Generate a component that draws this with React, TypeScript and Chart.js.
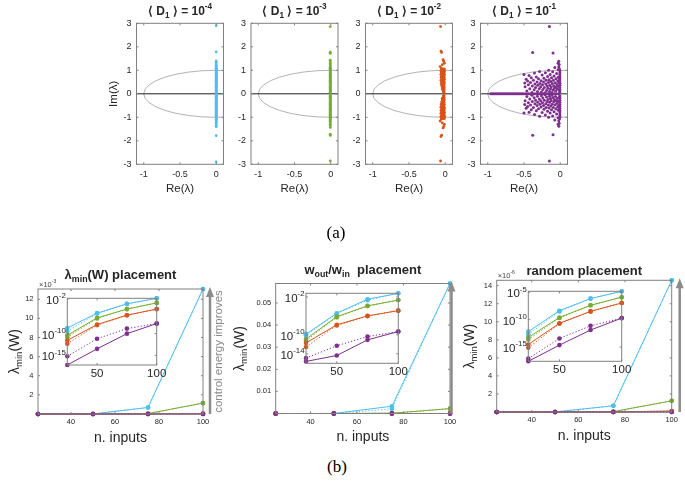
import React, { useEffect, useRef } from 'react';
import { Chart, registerables } from 'chart.js';

Chart.register(...registerables);

const FONT = '"Liberation Sans", Arial, Helvetica, sans-serif';
const SERIF = '"Liberation Serif", "Times New Roman", serif';
const TEXT = '#262626';
const BOX = '#808080';
const ARROW = '#8c8c8c';
const CYAN = '#4DBEEE';
const GREEN = '#77AC30';
const ORANGE = '#D95319';
const PURPLE = '#7E2F8E';

// ---------------- (a) eigenvalue spectra ----------------
const D1_EXPONENTS = ['-4', '-3', '-2', '-1'];
const EIG_COLORS = [CYAN, GREEN, ORANGE, PURPLE];
const RE_TICKS = [-1, -0.5, 0];
const RE_TICK_LABELS = ['-1', '-0.5', '0'];
const IM_TICKS = [-3, -2, -1, 0, 1, 2, 3];
const IM_TICK_LABELS = ['-3', '-2', '-1', '0', '1', '2', '3'];

// <D1> = 1e-4 : conjugate pairs re ± i*im
const EIG_D4_RE = -0.0005;
const EIG_D4_IM = [2.9, 1.78, 1.4, 1.34, 1.27, 1.21, 1.16, 1.12, 1.09, 1.06, 1.03, 1.0, 0.97, 0.94, 0.91, 0.88, 0.85, 0.82, 0.79, 0.76, 0.73, 0.7, 0.67, 0.64, 0.61, 0.58, 0.55, 0.52, 0.49, 0.46, 0.43, 0.4, 0.37, 0.34, 0.31, 0.28, 0.25, 0.22, 0.19, 0.16, 0.13, 0.1, 0.07, 0.04];
// <D1> = 1e-3
const EIG_D3_RE = -0.007;
const EIG_D3_IM = [2.86, 1.77, 1.72, 1.43, 1.36, 1.3, 1.24, 1.18, 1.13, 1.09, 1.06, 1.03, 1.0, 0.97, 0.94, 0.91, 0.88, 0.85, 0.82, 0.79, 0.76, 0.73, 0.7, 0.67, 0.64, 0.61, 0.58, 0.55, 0.52, 0.49, 0.46, 0.43, 0.4, 0.37, 0.34, 0.31, 0.28, 0.25, 0.22, 0.19, 0.16, 0.13, 0.1, 0.07, 0.04];
// <D1> = 1e-2 : [re, im] conjugate pairs
const EIG_D2_PAIRS = [
  [-0.065, 2.86], [-0.06, 1.82], [-0.05, 1.76], [-0.03, 1.45], [-0.02, 1.39], [-0.012, 1.3], [-0.04, 1.24], [-0.07, 1.16],
  [-0.055, 1.08], [-0.03, 1.06], [-0.012, 1.05], [-0.048, 1.02], [-0.022, 1.0], [-0.06, 0.98], [-0.038, 0.96], [-0.01, 0.95],
  [-0.052, 0.92], [-0.028, 0.9], [-0.015, 0.88], [-0.045, 0.86], [-0.06, 0.83], [-0.032, 0.82], [-0.01, 0.8], [-0.05, 0.78],
  [-0.022, 0.76], [-0.04, 0.74], [-0.058, 0.71], [-0.015, 0.7], [-0.035, 0.68], [-0.05, 0.65], [-0.025, 0.63], [-0.01, 0.61],
  [-0.045, 0.6], [-0.06, 0.57], [-0.03, 0.55], [-0.018, 0.53], [-0.05, 0.51], [-0.038, 0.48], [-0.012, 0.46], [-0.055, 0.44],
  [-0.025, 0.42], [-0.042, 0.39], [-0.015, 0.37], [-0.05, 0.35], [-0.03, 0.33], [-0.02, 0.3], [-0.04, 0.28], [-0.012, 0.26],
  [-0.035, 0.24], [-0.022, 0.21], [-0.04, 0.19], [-0.015, 0.17], [-0.028, 0.14], [-0.018, 0.11], [-0.025, 0.08], [-0.015, 0.05],
];
// <D1> = 1e-1 : real eigenvalues and conjugate pairs
const EIG_D1_REAL = [-0.96, -0.94, -0.92, -0.9, -0.88, -0.86, -0.84, -0.82, -0.8, -0.78, -0.76, -0.74, -0.72, -0.7, -0.68, -0.66, -0.64, -0.62, -0.6, -0.58, -0.56, -0.54, -0.52, -0.5, -0.47, -0.44, -0.41, -0.38, -0.35, -0.32, -0.29, -0.26, -0.23, -0.2, -0.17, -0.14, -0.11, -0.08, -0.05, -0.02];
const EIG_D1_PAIRS = [
  [-0.15, 2.86], [-0.38, 1.76], [-0.1, 1.74],
  [-0.005, 0.08], [-0.004, 0.18], [-0.006, 0.27], [-0.005, 0.36], [-0.004, 0.45], [-0.006, 0.54], [-0.005, 0.63], [-0.004, 0.72], [-0.006, 0.81], [-0.005, 0.9], [-0.004, 0.98], [-0.01, 1.06], [-0.02, 1.15], [-0.015, 1.25], [-0.02, 1.38], [-0.03, 1.3],
  [-0.5, 0.82], [-0.49, 0.46], [-0.485, 0.3], [-0.47, 0.62], [-0.46, 0.12], [-0.45, 0.54], [-0.44, 0.38], [-0.43, 0.78], [-0.42, 0.22], [-0.41, 0.48],
  [-0.4, 0.68], [-0.39, 0.06], [-0.385, 0.33], [-0.37, 0.58], [-0.36, 0.17], [-0.355, 0.88], [-0.35, 0.42], [-0.34, 0.27], [-0.33, 0.72], [-0.32, 0.5],
  [-0.315, 0.1], [-0.31, 0.36], [-0.3, 0.64], [-0.29, 0.22], [-0.285, 0.95], [-0.28, 0.44], [-0.27, 0.3], [-0.265, 0.56], [-0.26, 0.08], [-0.25, 0.8],
  [-0.245, 0.38], [-0.24, 0.18], [-0.23, 0.5], [-0.225, 0.66], [-0.22, 0.27], [-0.21, 0.04], [-0.205, 0.9], [-0.2, 0.42], [-0.195, 0.58], [-0.19, 0.14],
  [-0.18, 0.33], [-0.175, 0.74], [-0.17, 0.24], [-0.165, 0.48], [-0.16, 1.0], [-0.155, 0.6], [-0.15, 0.1], [-0.145, 0.36], [-0.14, 0.82], [-0.135, 0.2],
  [-0.13, 0.52], [-0.125, 0.29], [-0.12, 0.68], [-0.115, 0.06], [-0.11, 0.44], [-0.105, 0.94], [-0.1, 0.16], [-0.095, 0.58], [-0.09, 0.34], [-0.085, 0.76],
  [-0.08, 0.24], [-0.075, 1.12], [-0.07, 0.47], [-0.065, 0.12], [-0.06, 0.64], [-0.055, 0.3], [-0.05, 0.86], [-0.045, 0.4], [-0.04, 0.2], [-0.035, 0.55],
  [-0.03, 1.02], [-0.028, 0.7], [-0.025, 0.32], [-0.02, 0.48], [-0.015, 0.14], [-0.012, 0.6],
];

// ---------------- (b) lambda_min(W) vs number of inputs ----------------
const INPUTS = [25, 50, 75, 100];
const N_TICKS = [40, 60, 80, 100];
const N_TICK_LABELS = ['40', '60', '80', '100'];
const INSET_N_TICKS = [50, 100];
const INSET_N_TICK_LABELS = ['50', '100'];

// lambda_min(W) placement
const LM_CYAN = [1.9e-9, 5.0e-6, 6.8e-4, 1.307e-2];
const LM_CYAN_DOT = [3.3e-10, 4.0e-6, 6.8e-4, 1.307e-2];
const LM_GREEN = [3.9e-11, 4.1e-7, 4.3e-5, 1.14e-3];
const LM_GREEN_DOT = [1.5e-11, 3.0e-7, 4.3e-5, 1.14e-3];
const LM_ORANGE = [2.6e-12, 1.2e-8, 1.7e-6, 4.3e-5];
const LM_ORANGE_DOT = [4.5e-13, 9.0e-9, 1.7e-6, 4.3e-5];
const LM_PURPLE = [5.9e-18, 3.1e-14, 9.5e-11, 2.0e-8];
const LM_PURPLE_DOT = [5.9e-16, 6.6e-12, 1.4e-9, 2.0e-8];
const LM_YTICKS = [0.002, 0.004, 0.006, 0.008, 0.01, 0.012];
const LM_YTICK_LABELS = ['2', '4', '6', '8', '10', '12'];
const LM_INSET_YTICKS = [1e-15, 1e-10, 1e-2];

// w_out/w_in placement
const WO_CYAN = [1.4e-10, 3.7e-6, 3.3e-3, 5.88e-2];
const WO_CYAN_DOT = [8.0e-11, 3.0e-6, 2.1e-3, 5.88e-2];
const WO_GREEN = [1.3e-11, 7.0e-7, 1.3e-4, 2.2e-3];
const WO_GREEN_DOT = [6.0e-12, 5.0e-7, 1.2e-4, 2.2e-3];
const WO_ORANGE = [2.0e-12, 1.3e-8, 1.0e-6, 1.3e-5];
const WO_ORANGE_DOT = [2.8e-13, 1.0e-8, 9.0e-7, 1.3e-5];
const WO_PURPLE = [2.5e-16, 4.4e-15, 8.9e-12, 5.0e-10];
const WO_PURPLE_DOT = [1.3e-15, 5.0e-13, 4.4e-11, 5.0e-10];
const WO_YTICKS = [0.01, 0.02, 0.03, 0.04, 0.05];
const WO_YTICK_LABELS = ['0.01', '0.02', '0.03', '0.04', '0.05'];
const WO_INSET_YTICKS = [1e-14, 1e-10, 1e-2];

// random placement
const RD_CYAN = [6.6e-13, 4.3e-9, 6.9e-7, 1.46e-5];
const RD_CYAN_DOT = [2.1e-13, 3.2e-9, 6.9e-7, 1.46e-5];
const RD_GREEN = [5.9e-14, 2.5e-10, 4.1e-8, 1.24e-6];
const RD_GREEN_DOT = [2.5e-14, 2.0e-10, 4.1e-8, 1.24e-6];
const RD_ORANGE = [3.0e-15, 2.2e-11, 3.2e-9, 1.1e-7];
const RD_ORANGE_DOT = [7.4e-16, 1.8e-11, 3.2e-9, 1.1e-7];
const RD_PURPLE = [2.6e-18, 2.3e-15, 1.3e-12, 1.9e-10];
const RD_PURPLE_DOT = [7.9e-18, 3.8e-14, 7.4e-12, 1.9e-10];
const RD_YTICKS = [2e-6, 4e-6, 6e-6, 8e-6, 10e-6, 12e-6, 14e-6];
const RD_YTICK_LABELS = ['2', '4', '6', '8', '10', '12', '14'];
const RD_INSET_YTICKS = [1e-15, 1e-10, 1e-5];

// ---------------- helpers ----------------
type Part = { t: string; s?: 'sub' | 'sup' };
type Box = { x: number; y: number; w: number; h: number };
type Marg = { l: number; t: number; r: number; b: number };

function drawRich(ctx: any, parts: Part[], x: number, y: number, size: number, opt: any = {}) {
  const { bold = false, align = 'center', color = TEXT, rotate = false } = opt;
  const w = bold ? 'bold ' : '';
  const small = size * 0.68;
  ctx.save();
  ctx.translate(x, y);
  if (rotate) ctx.rotate(-Math.PI / 2);
  const fonts = parts.map((p) => `${w}${p.s ? small : size}px ${FONT}`);
  const widths = parts.map((p, i) => {
    ctx.font = fonts[i];
    return ctx.measureText(p.t).width;
  });
  const total = widths.reduce((a, b) => a + b, 0);
  let cx = align === 'left' ? 0 : align === 'right' ? -total : -total / 2;
  ctx.fillStyle = color;
  ctx.textAlign = 'left';
  ctx.textBaseline = 'middle';
  parts.forEach((p, i) => {
    ctx.font = fonts[i];
    const dy = p.s === 'sub' ? size * 0.32 : p.s === 'sup' ? -size * 0.42 : 0;
    ctx.fillText(p.t, cx, dy);
    cx += widths[i];
  });
  ctx.restore();
}

function drawArrow(ctx: any, x: number, yBottom: number, yTop: number) {
  ctx.save();
  ctx.strokeStyle = ARROW;
  ctx.fillStyle = ARROW;
  ctx.lineWidth = 2.5;
  ctx.beginPath();
  ctx.moveTo(x, yBottom);
  ctx.lineTo(x, yTop + 8);
  ctx.stroke();
  ctx.beginPath();
  ctx.moveTo(x, yTop);
  ctx.lineTo(x - 4, yTop + 10);
  ctx.lineTo(x + 4, yTop + 10);
  ctx.closePath();
  ctx.fill();
  ctx.restore();
}

function axis(kind: 'x' | 'y', type: string, min: number, max: number, ticks: number[], labels: string[], fontSize: number, pad: number, size: number, show = true) {
  return {
    type,
    min,
    max,
    position: kind === 'x' ? 'bottom' : 'left',
    grid: { display: false, drawTicks: false, tickLength: 0 },
    border: { display: false },
    ticks: {
      display: show,
      autoSkip: false,
      maxRotation: 0,
      minRotation: 0,
      padding: pad,
      color: TEXT,
      font: { family: FONT, size: fontSize },
      callback: (_v: any, i: number) => labels[i] ?? '',
    },
    afterBuildTicks: (s: any) => {
      s.ticks = ticks.map((v) => ({ value: v }));
    },
    afterFit: (s: any) => {
      if (kind === 'x') s.height = size;
      else s.width = size;
      s.paddingLeft = 0;
      s.paddingRight = 0;
      s.paddingTop = 0;
      s.paddingBottom = 0;
    },
  };
}

function framePlugin(o: { white?: boolean; circle?: boolean; extra?: (ctx: any, chart: any) => void; tick?: number }) {
  return {
    id: 'frame',
    beforeDraw(chart: any) {
      if (!o.white) return;
      const a = chart.chartArea;
      const ctx = chart.ctx;
      ctx.save();
      ctx.fillStyle = '#ffffff';
      ctx.fillRect(a.left, a.top, a.right - a.left, a.bottom - a.top);
      ctx.restore();
    },
    beforeDatasetsDraw(chart: any) {
      if (!o.circle) return;
      const a = chart.chartArea;
      const ctx = chart.ctx;
      const xs = chart.scales.x;
      const ys = chart.scales.y;
      ctx.save();
      ctx.beginPath();
      ctx.rect(a.left, a.top, a.right - a.left, a.bottom - a.top);
      ctx.clip();
      const cx = xs.getPixelForValue(0);
      const cy = ys.getPixelForValue(0);
      const rx = xs.getPixelForValue(1) - cx;
      const ry = cy - ys.getPixelForValue(1);
      ctx.strokeStyle = '#a0a0a0';
      ctx.lineWidth = 0.8;
      ctx.beginPath();
      ctx.ellipse(cx, cy, rx, ry, 0, 0, Math.PI * 2);
      ctx.stroke();
      ctx.strokeStyle = '#202020';
      ctx.lineWidth = 1;
      ctx.beginPath();
      ctx.moveTo(a.left, cy);
      ctx.lineTo(a.right, cy);
      ctx.stroke();
      ctx.restore();
    },
    afterDraw(chart: any) {
      const a = chart.chartArea;
      const ctx = chart.ctx;
      const xs = chart.scales.x;
      const ys = chart.scales.y;
      const tl = o.tick ?? 2.5;
      ctx.save();
      ctx.strokeStyle = BOX;
      ctx.lineWidth = 1;
      ctx.strokeRect(a.left, a.top, a.right - a.left, a.bottom - a.top);
      ctx.beginPath();
      xs.ticks.forEach((t: any) => {
        const p = xs.getPixelForValue(t.value);
        ctx.moveTo(p, a.bottom);
        ctx.lineTo(p, a.bottom - tl);
        ctx.moveTo(p, a.top);
        ctx.lineTo(p, a.top + tl);
      });
      ys.ticks.forEach((t: any) => {
        const p = ys.getPixelForValue(t.value);
        ctx.moveTo(a.left, p);
        ctx.lineTo(a.left + tl, p);
        ctx.moveTo(a.right, p);
        ctx.lineTo(a.right - tl, p);
      });
      ctx.stroke();
      ctx.restore();
      if (o.extra) o.extra(ctx, chart);
    },
  };
}

function baseOptions(m: Marg) {
  return {
    responsive: false,
    animation: false,
    devicePixelRatio: 1,
    events: [],
    layout: { padding: { left: 0, top: m.t, right: m.r, bottom: 0 } },
    plugins: { legend: { display: false }, tooltip: { enabled: false }, title: { display: false } },
  };
}

function PlotCanvas({ box, want, build }: { box: Box; want: Marg; build: (m: Marg) => any }) {
  const ref = useRef<HTMLCanvasElement>(null);
  const left = Math.floor(box.x - want.l);
  const top = Math.floor(box.y - want.t);
  const W = Math.ceil(box.x + box.w + want.r) - left;
  const H = Math.ceil(box.y + box.h + want.b) - top;
  const m = { l: box.x - left, t: box.y - top, r: W - (box.x - left) - box.w, b: H - (box.y - top) - box.h };
  useEffect(() => {
    const chart = new Chart(ref.current as any, build(m));
    return () => chart.destroy();
  }, []);
  return <canvas ref={ref} width={W} height={H} style={{ position: 'absolute', left, top, width: W, height: H }} />;
}

function eigPoints(idx: number) {
  const out: { x: number; y: number }[] = [];
  if (idx === 0) EIG_D4_IM.forEach((im) => out.push({ x: EIG_D4_RE, y: im }, { x: EIG_D4_RE, y: -im }));
  if (idx === 1) EIG_D3_IM.forEach((im) => out.push({ x: EIG_D3_RE, y: im }, { x: EIG_D3_RE, y: -im }));
  if (idx === 2) EIG_D2_PAIRS.forEach(([re, im]) => out.push({ x: re, y: im }, { x: re, y: -im }));
  if (idx === 3) {
    EIG_D1_REAL.forEach((re) => out.push({ x: re, y: 0 }));
    EIG_D1_PAIRS.forEach(([re, im]) => out.push({ x: re, y: im }, { x: re, y: -im }));
  }
  return out;
}

function eigConfig(idx: number) {
  return (m: Marg) => ({
    type: 'scatter',
    data: {
      datasets: [
        {
          data: eigPoints(idx),
          backgroundColor: EIG_COLORS[idx],
          borderWidth: 0,
          pointRadius: idx === 3 ? 1.5 : 1.4,
          pointHoverRadius: 1.4,
        },
      ],
    },
    options: {
      ...baseOptions(m),
      scales: {
        x: axis('x', 'linear', -1.1, 0.1, RE_TICKS, RE_TICK_LABELS, 9, 5, m.b),
        y: axis('y', 'linear', -3, 3, IM_TICKS, IM_TICK_LABELS, 9, 5, m.l),
      },
    },
    plugins: [
      framePlugin({
        circle: true,
        tick: 2,
        extra: (ctx, chart) => {
          const a = chart.chartArea;
          const cx = (a.left + a.right) / 2;
          drawRich(ctx, [{ t: '\u27E8 D' }, { t: '1', s: 'sub' }, { t: ' \u27E9 = 10' }, { t: D1_EXPONENTS[idx], s: 'sup' }], cx, a.top - 11.5, 12, { bold: true });
          drawRich(ctx, [{ t: 'Re(\u03BB)' }], cx, a.bottom + 25, 11.5);
          if (idx === 0) drawRich(ctx, [{ t: 'Im(\u03BB)' }], a.left - 23, (a.top + a.bottom) / 2, 11.5, { rotate: true });
        },
      }),
    ],
  });
}

type Panel = {
  series: [number[], string, boolean][];
  yMax: number;
  yTicks: number[];
  yLabels: string[];
  insetMin: number;
  insetTicks: number[];
  title: Part[];
  titleDy: number;
  yLabelDx: number;
  exponent: string | null;
  arrowDx: number;
  control: boolean;
};

function lineDatasets(series: [number[], string, boolean][]) {
  return series.map(([vals, color, dot]) => ({
    data: INPUTS.map((x, i) => ({ x, y: vals[i] })),
    borderColor: color,
    backgroundColor: color,
    borderWidth: 1,
    borderDash: dot ? [1.2, 2] : [],
    pointRadius: 2.3,
    pointHoverRadius: 2.3,
    pointBorderWidth: 0,
    tension: 0,
    fill: false,
    clip: false,
  }));
}

function mainConfig(p: Panel) {
  return (m: Marg) => ({
    type: 'line',
    data: { datasets: lineDatasets(p.series) },
    options: {
      ...baseOptions(m),
      scales: {
        x: axis('x', 'linear', 25, 100, N_TICKS, N_TICK_LABELS, 7.5, 3.5, m.b),
        y: axis('y', 'linear', 0, p.yMax, p.yTicks, p.yLabels, 7.5, 4.5, m.l),
      },
    },
    plugins: [
      framePlugin({
        tick: 2,
        extra: (ctx, chart) => {
          const a = chart.chartArea;
          const cx = (a.left + a.right) / 2;
          drawRich(ctx, p.title, cx, a.top - p.titleDy, 13, { bold: true });
          drawRich(ctx, [{ t: 'n. inputs' }], cx, a.bottom + 24, 14);
          drawRich(ctx, [{ t: '\u03BB' }, { t: 'min', s: 'sub' }, { t: '(W)' }], a.left - p.yLabelDx, (a.top + a.bottom) / 2, 14, { rotate: true });
          if (p.exponent) drawRich(ctx, [{ t: '\u00D710' }, { t: p.exponent, s: 'sup' }], a.left + 1, a.top - 4.5, 7.5, { align: 'left', color: '#444' });
          drawArrow(ctx, a.right + p.arrowDx, a.bottom, a.top - 2);
          if (p.control) drawRich(ctx, [{ t: 'control energy improves' }], a.right + 15.5, (a.top + a.bottom) / 2, 11.5, { rotate: true, color: ARROW });
        },
      }),
    ],
  });
}

function insetConfig(p: Panel) {
  return (m: Marg) => ({
    type: 'line',
    data: { datasets: lineDatasets(p.series) },
    options: {
      ...baseOptions(m),
      scales: {
        x: axis('x', 'linear', 25, 100, INSET_N_TICKS, INSET_N_TICK_LABELS, 11.5, 2, m.b),
        y: axis('y', 'logarithmic', p.insetMin, p.yMax, p.insetTicks, [], 11, 2, m.l, false),
      },
    },
    plugins: [
      framePlugin({
        white: true,
        tick: 2,
        extra: (ctx, chart) => {
          const a = chart.chartArea;
          const ys = chart.scales.y;
          p.insetTicks.forEach((v) => {
            const e = Math.round(Math.log10(v));
            drawRich(ctx, [{ t: '10' }, { t: String(e), s: 'sup' }], a.left - 1.5, ys.getPixelForValue(v) + 2, 11.5, { align: 'right' });
          });
        },
      }),
    ],
  });
}

const TOP_BOXES: Box[] = [
  { x: 136.5, y: 23.3, w: 87, h: 141 },
  { x: 251, y: 23.3, w: 87, h: 141 },
  { x: 365.5, y: 23.3, w: 87, h: 141 },
  { x: 480.5, y: 23.3, w: 87, h: 141 },
];
const MAIN_BOXES: Box[] = [
  { x: 38, y: 289, w: 165, h: 125 },
  { x: 275.7, y: 283.5, w: 174.3, h: 130 },
  { x: 496.7, y: 280.3, w: 175, h: 131.7 },
];
const INSET_BOXES: Box[] = [
  { x: 67.3, y: 298.3, w: 89.4, h: 66.7 },
  { x: 306, y: 293.3, w: 92.3, h: 70 },
  { x: 528.3, y: 291.3, w: 93.4, h: 70 },
];

export default function App() {
  const panels: Panel[] = [
    {
      series: [
        [LM_PURPLE, PURPLE, false], [LM_PURPLE_DOT, PURPLE, true],
        [LM_ORANGE, ORANGE, false], [LM_ORANGE_DOT, ORANGE, true],
        [LM_GREEN, GREEN, false], [LM_GREEN_DOT, GREEN, true],
        [LM_CYAN, CYAN, false], [LM_CYAN_DOT, CYAN, true],
      ],
      yMax: 1.307e-2,
      yTicks: LM_YTICKS,
      yLabels: LM_YTICK_LABELS,
      insetMin: 5.9e-18,
      insetTicks: LM_INSET_YTICKS,
      title: [{ t: '\u03BB' }, { t: 'min', s: 'sub' }, { t: '(W) placement' }],
      titleDy: 13.5,
      yLabelDx: 23,
      exponent: '-3',
      arrowDx: 7,
      control: true,
    },
    {
      series: [
        [WO_PURPLE, PURPLE, false], [WO_PURPLE_DOT, PURPLE, true],
        [WO_ORANGE, ORANGE, false], [WO_ORANGE_DOT, ORANGE, true],
        [WO_GREEN, GREEN, false], [WO_GREEN_DOT, GREEN, true],
        [WO_CYAN, CYAN, false], [WO_CYAN_DOT, CYAN, true],
      ],
      yMax: 5.88e-2,
      yTicks: WO_YTICKS,
      yLabels: WO_YTICK_LABELS,
      insetMin: 1e-16,
      insetTicks: WO_INSET_YTICKS,
      title: [{ t: 'w' }, { t: 'out', s: 'sub' }, { t: '/w' }, { t: 'in', s: 'sub' }, { t: '  placement' }],
      titleDy: 13.5,
      yLabelDx: 35.5,
      exponent: null,
      arrowDx: 1.5,
      control: false,
    },
    {
      series: [
        [RD_PURPLE, PURPLE, false], [RD_PURPLE_DOT, PURPLE, true],
        [RD_ORANGE, ORANGE, false], [RD_ORANGE_DOT, ORANGE, true],
        [RD_GREEN, GREEN, false], [RD_GREEN_DOT, GREEN, true],
        [RD_CYAN, CYAN, false], [RD_CYAN_DOT, CYAN, true],
      ],
      yMax: 1.46e-5,
      yTicks: RD_YTICKS,
      yLabels: RD_YTICK_LABELS,
      insetMin: 2.6e-18,
      insetTicks: RD_INSET_YTICKS,
      title: [{ t: 'random placement' }],
      titleDy: 8.5,
      yLabelDx: 26.7,
      exponent: '-6',
      arrowDx: 8,
      control: false,
    },
  ];
  const mainWant: Marg[] = [
    { l: 40, t: 22, r: 24, b: 34 },
    { l: 42, t: 22, r: 8, b: 34 },
    { l: 34, t: 16, r: 12, b: 34 },
  ];
  return (
    <div style={{ position: 'absolute', left: 0, top: 0, width: 685, height: 482, overflow: 'hidden', background: '#fff' }}>
      {TOP_BOXES.map((b, i) => (
        <PlotCanvas key={'t' + i} box={b} want={{ l: i === 0 ? 34 : 22, t: 23, r: 8, b: 34 }} build={eigConfig(i)} />
      ))}
      {MAIN_BOXES.map((b, i) => (
        <PlotCanvas key={'m' + i} box={b} want={mainWant[i]} build={mainConfig(panels[i])} />
      ))}
      {INSET_BOXES.map((b, i) => (
        <PlotCanvas key={'i' + i} box={b} want={{ l: 34, t: 6, r: 10, b: 18 }} build={insetConfig(panels[i])} />
      ))}
      <div style={{ position: 'absolute', left: 336, top: 232, transform: 'translate(-50%, -50%)', fontFamily: SERIF, fontSize: 17, lineHeight: 1, color: '#000' }}>(a)</div>
      <div style={{ position: 'absolute', left: 337, top: 466, transform: 'translate(-50%, -50%)', fontFamily: SERIF, fontSize: 17, lineHeight: 1, color: '#000' }}>(b)</div>
    </div>
  );
}
